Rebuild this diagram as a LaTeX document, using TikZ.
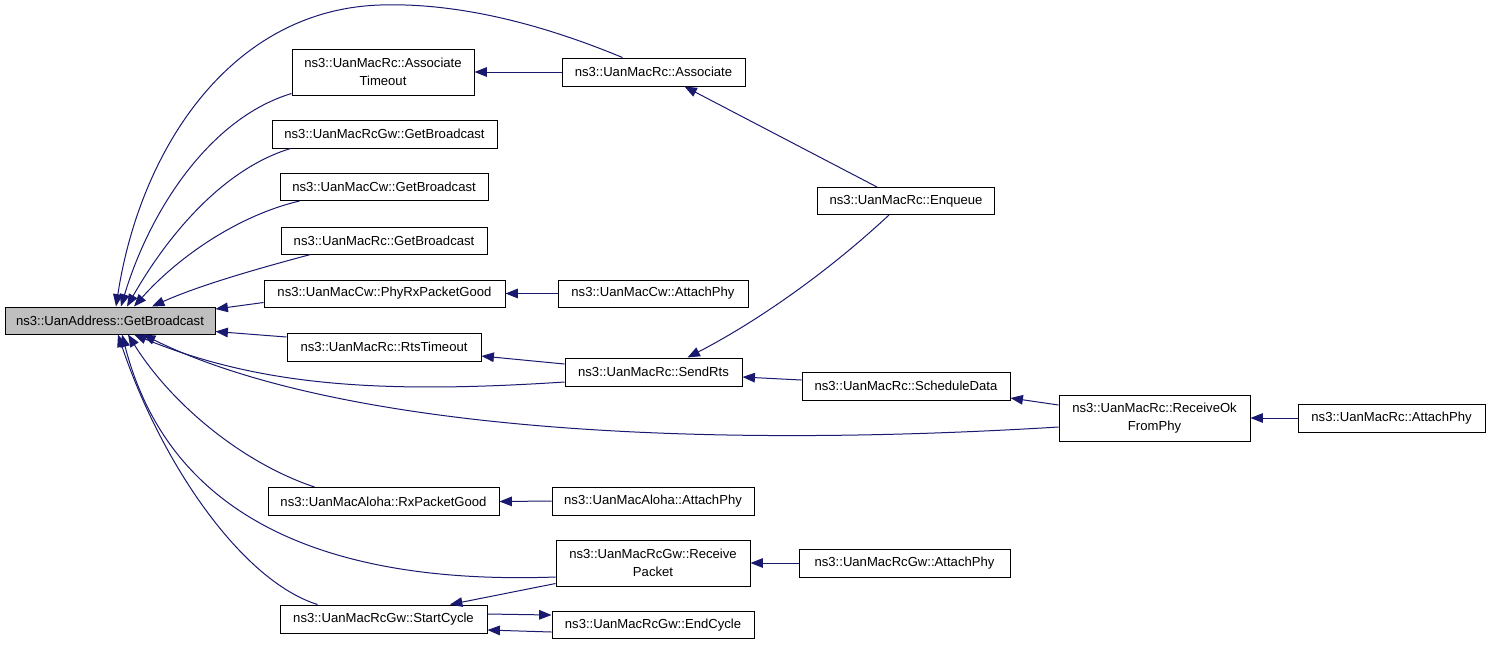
\documentclass[tikz,border=0pt]{standalone}
\usepackage{fontspec}
\setmainfont{Liberation Sans}
\usetikzlibrary{arrows.meta,calc}
\definecolor{edgeblue}{HTML}{191970}
\definecolor{rootgray}{HTML}{BFBFBF}
\begin{document}
\begin{tikzpicture}[x=0.5pt,y=-0.5pt,
  box/.style={draw=black,line width=0.5pt,fill=white,inner sep=0pt,align=center,
    font=\fontsize{6.55}{9}\selectfont},
  edge/.style={draw=edgeblue,line width=0.5pt,-{Triangle[length=6.2pt,width=4.8pt]}}]
\useasboundingbox (0,0) rectangle (1491,645);
\fill[white] (0,0) rectangle (1491,645);
% nodes
\node[box,fill=rootgray,minimum width=105pt,minimum height=13.5pt] (root) at (110,320.5) {ns3::UanAddress::GetBroadcast};
\node[box,minimum width=91pt,minimum height=23pt] (AT) at (383,72) {ns3::UanMacRc::Associate\\Timeout};
\node[box,minimum width=91.5pt,minimum height=14pt] (AS) at (653.5,72) {ns3::UanMacRc::Associate};
\node[box,minimum width=112.5pt,minimum height=14pt] (GBgw) at (384.5,134) {ns3::UanMacRcGw::GetBroadcast};
\node[box,minimum width=104pt,minimum height=13.5pt] (GBcw) at (384,187) {ns3::UanMacCw::GetBroadcast};
\node[box,minimum width=103pt,minimum height=13.5pt] (GBrc) at (384,240.5) {ns3::UanMacRc::GetBroadcast};
\node[box,minimum width=120.5pt,minimum height=13.5pt] (PRPG) at (384.5,293.5) {ns3::UanMacCw::PhyRxPacketGood};
\node[box,minimum width=95pt,minimum height=13.5pt] (CwAP) at (653,293.5) {ns3::UanMacCw::AttachPhy};
\node[box,minimum width=97pt,minimum height=14pt] (RTO) at (384,347) {ns3::UanMacRc::RtsTimeout};
\node[box,minimum width=88.5pt,minimum height=14pt] (SR) at (653.5,372) {ns3::UanMacRc::SendRts};
\node[box,minimum width=88.5pt,minimum height=13.5pt] (ENQ) at (906,201) {ns3::UanMacRc::Enqueue};
\node[box,minimum width=104pt,minimum height=14pt] (SD) at (906,386) {ns3::UanMacRc::ScheduleData};
\node[box,minimum width=95.5pt,minimum height=23pt] (ROFP) at (1154.5,418) {ns3::UanMacRc::ReceiveOk\\FromPhy};
\node[box,minimum width=93.5pt,minimum height=14pt] (RcAP) at (1391.5,418) {ns3::UanMacRc::AttachPhy};
\node[box,minimum width=115.5pt,minimum height=14pt] (RXPG) at (383.5,501.5) {ns3::UanMacAloha::RxPacketGood};
\node[box,minimum width=101pt,minimum height=14pt] (AlAP) at (653,501) {ns3::UanMacAloha::AttachPhy};
\node[box,minimum width=97pt,minimum height=23pt] (RP) at (653,563) {ns3::UanMacRcGw::Receive\\Packet};
\node[box,minimum width=105.5pt,minimum height=14pt] (GwAP) at (904.5,563) {ns3::UanMacRcGw::AttachPhy};
\node[box,minimum width=103.5pt,minimum height=14pt] (SC) at (383.5,619) {ns3::UanMacRcGw::StartCycle};
\node[box,minimum width=101pt,minimum height=13.5pt] (EC) at (653,625) {ns3::UanMacRcGw::EndCycle};
% edges to root, top side
\draw[edge] ($(AS.north)+(-31,0)$) .. controls (520,15) and (440,3) .. (380,5)
   .. controls (230,10) and (140,150) .. ($(root.north)+(6,0)$);
\draw[edge] ($(AT.south west)+(0,-2)$) .. controls (210,118) and (150,210) .. ($(root.north)+(11,0)$);
\draw[edge] ($(GBgw.south west)+(19,0)$) .. controls (220,170) and (165,240) .. ($(root.north)+(17,0)$);
\draw[edge] ($(GBcw.south west)+(20,0)$) .. controls (240,215) and (180,255) .. ($(root.north)+(24,0)$);
\draw[edge] ($(GBrc.south west)+(30,0)$) .. controls (260,268) and (200,285) .. ($(root.north)+(42,0)$);
\draw[edge] ($(PRPG.west)+(0,9)$) -- ($(root.east)+(0,-11.5)$);
\draw[edge] ($(RTO.west)+(0,-10)$) -- ($(root.east)+(0,11)$);
% edges to root, bottom side
\draw[edge] ($(SR.west)+(0,10)$) .. controls (380,394) and (260,386) .. ($(root.south)+(24,0)$);
\draw[edge] ($(ROFP.west)+(0,9)$) .. controls (650,452) and (320,422) .. ($(root.south)+(33,0)$);
\draw[edge] ($(RXPG.north west)+(47,0)$) .. controls (240,462) and (170,402) .. ($(root.south)+(18,0)$);
\draw[edge] ($(RP.west)+(0,14)$) .. controls (330,585) and (170,520) .. ($(root.south)+(12,0)$);
\draw[edge] ($(SC.north west)+(38,0)$) .. controls (240,580) and (160,460) .. ($(root.south)+(8,0)$);
% other edges
\draw[edge] (AS.west) -- (AT.east);
\draw[edge] ($(ENQ.north west)+(60,0)$) -- ($(AS.south)+(31,0)$);
\draw[edge] (CwAP.west) -- (PRPG.east);
\draw[edge] ($(SR.west)+(0,-8)$) -- ($(RTO.east)+(0,9)$);
\draw[edge] ($(ENQ.south west)+(72,0)$) .. controls (830,270) and (760,320) .. ($(SR.north)+(34,0)$);
\draw[edge] ($(SD.west)+(0,-6)$) -- ($(SR.east)+(0,5)$);
\draw[edge] ($(ROFP.west)+(0,-13)$) -- ($(SD.east)+(0,12)$);
\draw[edge] (RcAP.west) -- (ROFP.east);
\draw[edge] (AlAP.west) -- (RXPG.east);
\draw[edge] (GwAP.west) -- (RP.east);
\draw[edge] ($(RP.south west)+(0,-3)$) -- ($(SC.north)+(66.5,0)$);
\draw[edge] ($(SC.east)+(0,-5)$) -- ($(EC.west)+(0,-10)$);
\draw[edge] ($(EC.west)+(0,7)$) -- ($(SC.east)+(0,11)$);
\end{tikzpicture}
\end{document}
